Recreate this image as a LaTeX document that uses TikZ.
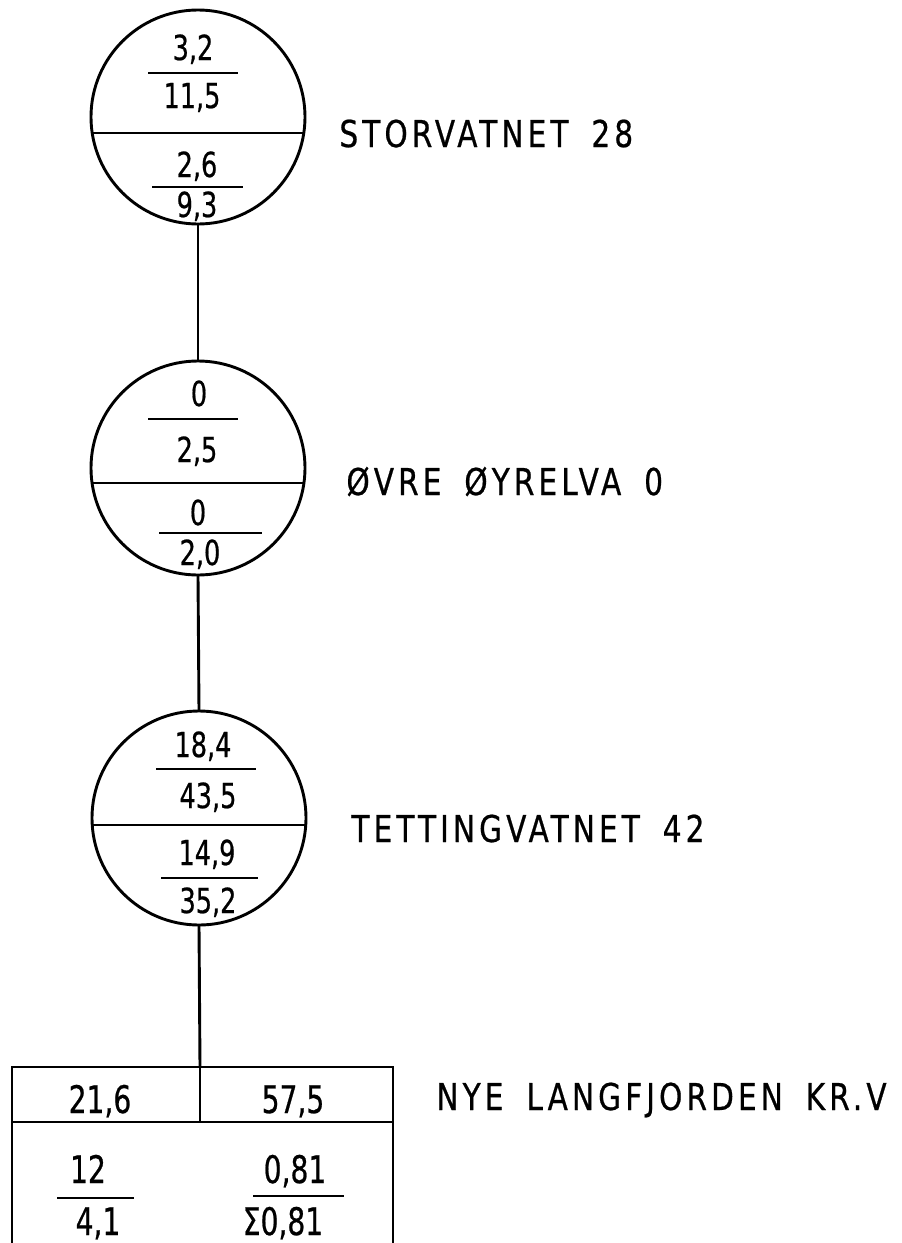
\documentclass[tikz,border=0pt]{standalone}
\usepackage{fontspec}
\setmainfont{DejaVu Sans}[FakeStretch=0.8, FakeBold=0.6]
\newfontfamily\numfont{DejaVu Sans}[FakeStretch=0.74, FakeBold=0.6]
\newfontfamily\labelfont{DejaVu Sans}[FakeStretch=0.8, FakeBold=0.6, LetterSpace=11, WordSpace=1.7]
\begin{document}
\begin{tikzpicture}[x=1pt, y=-1pt, line width=2.9pt,
  num/.style={font=\numfont\fontsize{34.5}{34.5}\selectfont, anchor=base, inner sep=0pt},
  boxnum/.style={font=\numfont\fontsize{38}{38}\selectfont, anchor=base, inner sep=0pt},
  lbl/.style={font=\labelfont\fontsize{37}{37}\selectfont, anchor=base west, inner sep=0pt},
  station/.style={circle, draw, minimum size=214pt, inner sep=0pt, outer sep=0pt},
]
\useasboundingbox (0,0) rectangle (902,1243);

% Stations
\node[station] (s1) at (198,117) {};
\node[station] (s2) at (198,468) {};
\node[station] (s3) at (199,818) {};

% Dividers inside the circles
\draw (92.2,133) -- (303.8,133);
\draw (92.1,483) -- (303.9,483);
\draw (92.2,825) -- (305.8,825);

% Station 1
\node[num] (a1) at (193,60) {3,2};
\draw (148,73) -- (238,73);
\node[num] (a2) at (192,108) {11,5};
\node[num] (a3) at (197,177) {2,6};
\draw (152,187) -- (243,187);
\node[num] (a4) at (197,217) {9,3};
\node[lbl] (l1) at (338,147) {STORVATNET 28};

% Station 2
\node[num] (b1) at (199,406) {0};
\draw (148,419) -- (238,419);
\node[num] (b2) at (197,462) {2,5};
\node[num] (b3) at (198,525) {0};
\draw (159,533) -- (262,533);
\node[num] (b4) at (200,565) {2,0};
\node[lbl] (l2) at (345,495) {ØVRE ØYRELVA 0};

% Station 3
\node[num] (c1) at (203,757) {18,4};
\draw (156,769) -- (256,769);
\node[num] (c2) at (208,808) {43,5};
\node[num] (c3) at (207,865) {14,9};
\draw (161,878) -- (258,878);
\node[num] (c4) at (208,913) {35,2};
\node[lbl] (l3) at (350,842) {TETTINGVATNET 42};

% Power station table
\coordinate (boxtop) at (200,1067);
\coordinate (boxmid) at (200,1122);
\draw (12,1250) -- (12,1067) -- (393,1067) -- (393,1250);
\draw (12,1122) -- (393,1122);
\draw (boxtop) -- (boxmid);
\node[boxnum] (d1) at (100,1113) {21,6};
\node[boxnum] (d2) at (293,1113) {57,5};
\node[boxnum] (d3) at (88,1183) {12};
\draw (57,1198) -- (134,1198);
\node[boxnum] (d4) at (98,1235) {4,1};
\node[boxnum] (d5) at (295,1183) {0,81};
\draw (253,1196) -- (344,1196);
\node[boxnum] (d6) at (283,1235) {Σ0,81};
\node[lbl] (l4) at (435,1110) {NYE LANGFJORDEN KR.V};

% Connectors
\draw (s1.south) -- (s2.north);
\draw (s2.south) -- (s3.north);
\draw (s3.south) -- (boxtop);
\end{tikzpicture}
\end{document}
